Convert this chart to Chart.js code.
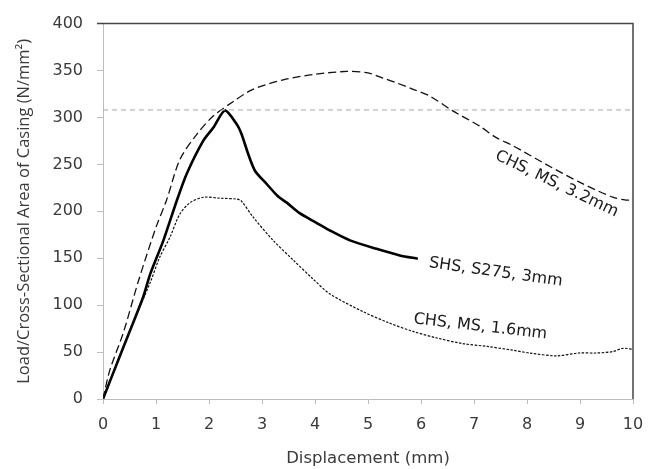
<!DOCTYPE html>
<html>
<head>
<meta charset="utf-8">
<script src="https://cdn.jsdelivr.net/npm/chart.js@4.4.1/dist/chart.umd.min.js"></script>
<style>
  html, body { margin: 0; padding: 0; background: #fff; }
  #wrap { width: 659px; height: 469px; }
</style>
</head>
<body>
<div id="wrap"><canvas id="myChart" width="659" height="469"></canvas></div>
<script>
// SHS, S275, 3mm (trait plein)
const shsX = [0, 0.25, 0.51, 0.76, 0.89, 1.14, 1.39, 1.58, 1.89, 2.08, 2.3, 2.52, 2.61, 2.74, 2.87, 3.09, 3.3, 3.46, 3.71, 4.02, 4.3, 4.66, 5.16, 5.6, 5.94];
const shsY = [0, 36, 73, 109, 133, 169, 211, 240, 275, 289, 307.5, 293, 283, 261, 243, 229, 216, 209.5, 198, 188, 179, 169, 160, 153, 149.5];

// CHS, MS, 3.2mm (tirets)
const chs32X = [0, 0.13, 0.38, 0.67, 1.0, 1.2, 1.45, 1.77, 2.08, 2.46, 2.83, 3.4, 4.0, 4.6, 5.0, 5.28, 5.53, 5.85, 6.16, 6.6, 7.1, 7.42, 7.73, 8.36, 8.99, 9.62, 9.87, 10];
const chs32Y = [0, 31, 70, 126, 183, 212, 255, 282, 301.5, 317, 330, 340, 346, 349, 347.5, 342, 337, 330, 323, 307, 291, 278.5, 270, 250, 231, 215, 212, 212];

// CHS, MS, 1.6mm (pointillés)
const chs16X = [0, 0.5, 0.89, 1.07, 1.26, 1.45, 1.64, 1.89, 2.2, 2.52, 2.61, 2.83, 3.21, 3.59, 3.96, 4.28, 4.91, 5.4, 5.85, 6.3, 6.79, 7.25, 7.73, 8.05, 8.55, 8.98, 9.3, 9.62, 9.81, 10];
const chs16Y = [0, 72, 124, 151, 172, 197, 209, 215, 214, 213, 211, 194, 169, 148, 128, 112, 93, 81, 72, 65, 59, 56, 52, 49, 46, 49, 49, 50.5, 54, 53];

// ligne horizontale de référence
const refX = [0, 10];
const refY = [308, 308];

const xTicks = [0, 1, 2, 3, 4, 5, 6, 7, 8, 9, 10];
const yTicks = [0, 50, 100, 150, 200, 250, 300, 350, 400];

const curveLabels = [
  { text: "CHS, MS, 3.2mm", x: 8.56, y: 229, angle: 25.6 },
  { text: "SHS, S275, 3mm", x: 7.41, y: 135, angle: 8 },
  { text: "CHS, MS, 1.6mm", x: 7.12, y: 77, angle: 6.5 },
];

const WIDE = "'DejaVu Sans', sans-serif";
const NARROW = "'Open Sans', 'Noto Sans', sans-serif";
const pts = (xs, ys) => xs.map((x, i) => ({ x: x, y: ys[i] }));

// cadre haut/droite + étiquettes des courbes
const extras = {
  id: "extras",
  afterDatasetsDraw(chart) {
    const c = chart.ctx;
    const a = chart.chartArea;
    c.save();
    c.strokeStyle = "#444";
    c.lineWidth = 1.5;
    c.beginPath();
    c.moveTo(a.left - 6, a.top);
    c.lineTo(a.right, a.top);
    c.lineTo(a.right, a.bottom);
    c.stroke();
    c.fillStyle = "#1a1a1a";
    c.font = "16px " + WIDE;
    c.textAlign = "center";
    c.textBaseline = "middle";
    curveLabels.forEach((l) => {
      const px = chart.scales.x.getPixelForValue(l.x);
      const py = chart.scales.y.getPixelForValue(l.y);
      c.save();
      c.translate(px, py);
      c.rotate((l.angle * Math.PI) / 180);
      c.fillText(l.text, 0, 0);
      c.restore();
    });
    c.restore();
  },
};

const ctx = document.getElementById("myChart").getContext("2d");
const myChart = new Chart(ctx, {
  type: "scatter",
  data: {
    datasets: [
      {
        label: "ref",
        data: pts(refX, refY),
        showLine: true,
        borderColor: "#a8a8a8",
        borderWidth: 1,
        borderDash: [5, 4],
        pointRadius: 0,
      },
      {
        label: "CHS, MS, 3.2mm",
        data: pts(chs32X, chs32Y),
        showLine: true,
        borderColor: "#111",
        borderWidth: 1.3,
        borderDash: [8, 4],
        pointRadius: 0,
        tension: 0.3,
      },
      {
        label: "CHS, MS, 1.6mm",
        data: pts(chs16X, chs16Y),
        showLine: true,
        borderColor: "#111",
        borderWidth: 1.2,
        borderDash: [2.5, 1.5],
        pointRadius: 0,
        tension: 0.3,
      },
      {
        label: "SHS, S275, 3mm",
        data: pts(shsX, shsY),
        showLine: true,
        borderColor: "#000",
        borderWidth: 2.6,
        pointRadius: 0,
        tension: 0.25,
      },
    ],
  },
  options: {
    responsive: false,
    animation: false,
    layout: { padding: { top: 22, right: 26, left: 0, bottom: 0 } },
    plugins: { legend: { display: false }, tooltip: { enabled: false } },
    scales: {
      x: {
        type: "linear",
        min: 0,
        max: 10,
        afterBuildTicks: (s) => { s.ticks = xTicks.map((v) => ({ value: v })); },
        afterFit: (s) => { s.height = 70; },
        grid: { drawOnChartArea: false, drawTicks: true, tickLength: 5, color: "#bdbdbd" },
        border: { color: "#bdbdbd", width: 1 },
        ticks: { color: "#3a3a3a", padding: 11, font: { family: WIDE, size: 16 } },
        title: { display: true, text: "Displacement (mm)", color: "#3a3a3a", padding: { top: 4, bottom: 0 }, font: { family: WIDE, size: 16.5 } },
      },
      y: {
        type: "linear",
        min: 0,
        max: 400,
        afterBuildTicks: (s) => { s.ticks = yTicks.map((v) => ({ value: v })); },
        afterFit: (s) => { s.width = 103; },
        grid: { drawOnChartArea: false, drawTicks: true, tickLength: 6, color: "#bdbdbd" },
        border: { color: "#bdbdbd", width: 1 },
        ticks: { color: "#3a3a3a", padding: 14, font: { family: WIDE, size: 16 } },
        title: { display: true, text: "Load/Cross-Sectional Area of Casing (N/mm²)", color: "#3a3a3a", padding: { top: 14, bottom: 0 }, font: { family: NARROW, size: 16.5 } },
      },
    },
  },
  plugins: [extras],
});
</script>
</body>
</html>
